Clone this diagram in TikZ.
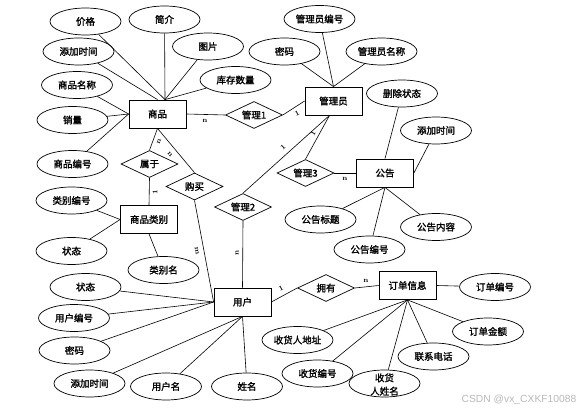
\documentclass[tikz,border=0pt]{standalone}
\usepackage{fontspec}
\newfontfamily\cjk[FakeBold=1.6]{Noto Sans CJK SC}
\newfontfamily\wmfont{Liberation Sans}
\usetikzlibrary{shapes.geometric}
\definecolor{wmgray}{RGB}{185,185,185}
\tikzset{
  txt/.style={font=\cjk\fontsize{9.5}{11}\selectfont},
  ent/.style={txt, draw, line width=0.8pt, minimum width=57pt, minimum height=28pt, inner sep=0pt},
  rel/.style={txt, draw, diamond, aspect=2.1, line width=0.7pt, minimum width=57pt, minimum height=27pt, inner sep=0pt},
  attr/.style={txt, draw, ellipse, line width=0.7pt, minimum width=71pt, minimum height=27pt, inner sep=0pt},
  conn/.style={line width=0.6pt},
  card/.style={font=\bfseries\fontsize{7}{8}\selectfont, inner sep=0pt}
}
\begin{document}
\begin{tikzpicture}[x=1pt,y=-1pt]
\fill[white] (0,0) rectangle (581,411);
\useasboundingbox (0,0) rectangle (581,411);

% entities
\node[ent] (sp) at (157.5,114) {商品};
\node[ent] (gly) at (333.5,101) {管理员};
\node[ent] (splb) at (149,219.5) {商品类别};
\node[ent] (gg) at (385,173) {公告};
\node[ent] (yh) at (242.5,302) {用户};
\node[ent] (dd) at (407.5,285.5) {订单信息};

% relationships
\node[rel] (gl1) at (254,115) {管理1};
\node[rel] (sy) at (149.5,164) {属于};
\node[rel] (gm) at (194.5,186.5) {购买};
\node[rel] (gl2) at (243,207) {管理2};
\node[rel] (gl3) at (305.5,173) {管理3};
\node[rel] (yy) at (326,288) {拥有};

% attributes of 商品
\node[attr] (jg) at (85.5,21.5) {价格};
\node[attr] (jj) at (164.5,19.5) {简介};
\node[attr] (tp) at (208,46.5) {图片};
\node[attr] (tjsja) at (78.5,51.5) {添加时间};
\node[attr] (kc) at (235.5,80) {库存数量};
\node[attr] (spmc) at (77,85) {商品名称};
\node[attr] (xl) at (72.5,120) {销量};
\node[attr] (spbh) at (72.5,164) {商品编号};

% attributes of 管理员
\node[attr] (glybh) at (319.5,19) {管理员编号};
\node[attr] (mma) at (284.5,51.5) {密码};
\node[attr] (glymc) at (381.5,51.5) {管理员名称};

% attributes of 公告
\node[attr] (sczt) at (402,93.5) {删除状态};
\node[attr] (tjsjb) at (436,130.5) {添加时间};
\node[attr] (ggbt) at (320.5,219.5) {公告标题};
\node[attr] (ggnr) at (436,227) {公告内容};
\node[attr] (ggbh) at (369.5,249.5) {公告编号};

% attributes of 商品类别
\node[attr] (lbbh) at (71.5,200.5) {类别编号};
\node[attr] (zta) at (71.5,251) {状态};
\node[attr] (lbm) at (163.5,270) {类别名};

% attributes of 用户
\node[attr] (ztb) at (85.5,287) {状态};
\node[attr] (yhbh) at (74,318) {用户编号};
\node[attr] (mmb) at (74.5,350.5) {密码};
\node[attr] (tjsjc) at (89.5,383.5) {添加时间};
\node[attr] (yhm) at (166,386.5) {用户名};
\node[attr] (xm) at (247,386.5) {姓名};

% attributes of 订单信息
\node[attr] (ddbh) at (495,287) {订单编号};
\node[attr] (shdz) at (297.5,340) {收货人地址};
\node[attr] (ddje) at (488,331.5) {订单金额};
\node[attr] (lxdh) at (433.5,356.5) {联系电话};
\node[attr] (shbh) at (317.5,373.5) {收货编号};
\node[attr] (shxm) at (384.5,383.5) {\smash{\raisebox{-4.5pt}{\begin{tabular}{@{}c@{}}收货\\[2pt]人姓名\end{tabular}}}};

% helper points
\coordinate (sptop) at ([xshift=7.5pt]sp.north);
\coordinate (glybot) at ([xshift=-4pt]gly.south);

% attribute connectors
\draw[conn] (jg) -- (sptop);
\draw[conn] (jj) -- (sptop);
\draw[conn] (tp) -- (sptop);
\draw[conn] (kc) -- (sptop);
\draw[conn] (tjsja) -- (sp.north);
\draw[conn] (spmc) -- (sp.west);
\draw[conn] (xl) -- (sp.west);
\draw[conn] (spbh) -- (sp.west);

\draw[conn] (glybh) -- (gly.north);
\draw[conn] (mma) -- (gly.north);
\draw[conn] (glymc) -- (gly.north);

\draw[conn] (sczt) -- (gg.north);
\draw[conn] (tjsjb) -- (gg.east);
\draw[conn] (ggbt) -- (gg.south);
\draw[conn] (ggnr) -- (gg.south);
\draw[conn] (ggbh) -- (gg.south);

\draw[conn] (lbbh) -- (splb.west);
\draw[conn] (zta) -- (splb.west);
\draw[conn] (lbm) -- (splb.south);

\draw[conn] (ztb) -- (yh.west);
\draw[conn] (yhbh) -- (yh.west);
\draw[conn] (mmb) -- (yh.west);
\draw[conn] (tjsjc) -- (yh.south);
\draw[conn] (yhm) -- (yh.south);
\draw[conn] (xm) -- (yh.south);

\draw[conn] (ddbh) -- (dd.east);
\draw[conn] (shdz) -- (dd.south);
\draw[conn] (shbh) -- (dd.south);
\draw[conn] (shxm) -- (dd.south);
\draw[conn] (lxdh) -- (dd.south);
\draw[conn] (ddje) -- (dd.south);

% relationship connectors
\draw[conn] (sp.east) -- (gl1.west);
\draw[conn] (gl1.east) -- (gly.west);
\draw[conn] (glybot) -- (gl2.north);
\draw[conn] (glybot) -- (gl3.north);
\draw[conn] (gl3.east) -- (gg.west);
\draw[conn] (sp.south) -- (sy.north);
\draw[conn] (sp.south) -- (gm.north);
\draw[conn] (sy.south) -- (splb.north);
\draw[conn] (gm.south) -- (yh.west);
\draw[conn] (gl2.south) -- (yh.north);
\draw[conn] (yh.east) -- (yy.west);
\draw[conn] (yy.east) -- (dd.west);

% cardinalities
\node[card] (c1) at (205,121) {n};
\node[card, rotate=27.5] (c2) at (297,113) {1};
\node[card, rotate=42.6] (c3) at (283,147) {1};
\node[card, rotate=60] (c4) at (313,133) {1};
\node[card] (c5) at (345,179) {n};
\node[card, rotate=71] (c6) at (159,142) {n};
\node[card, rotate=-50] (c7) at (170,154) {n};
\node[card, rotate=90] (c8) at (155,192) {1};
\node[card, rotate=-79] (c9) at (197,251) {m};
\node[card, rotate=90] (c10) at (237,253) {n};
\node[card, rotate=29] (c11) at (281,288) {1};
\node[card] (c12) at (366,281) {n};

% watermark
\node[font=\wmfont\fontsize{10.3}{12}\selectfont, text=wmgray, inner sep=0pt] (wm) at (519,400) {CSDN @vx\_CXKF10088};
\end{tikzpicture}
\end{document}
